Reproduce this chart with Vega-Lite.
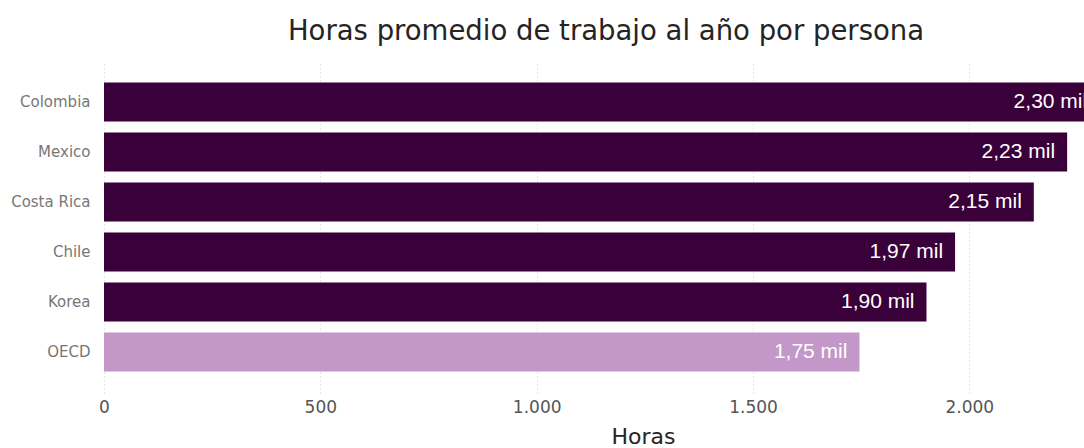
{
  "$schema": "https://vega.github.io/schema/vega-lite/v6.json",
  "width": 980,
  "height": 332,
  "autosize": {"type": "none"},
  "padding": {"left": 104, "top": 61, "right": 0, "bottom": 55},
  "background": "white",
  "config": {
    "view": {"stroke": null},
    "locale": {"number": {"decimal": ",", "thousands": ".", "grouping": [3], "currency": ["$", ""]}}
  },
  "title": {
    "text": "Horas promedio de trabajo al año por persona",
    "font": "DejaVu Sans",
    "fontSize": 27.5,
    "fontWeight": "normal",
    "color": "#252423",
    "frame": "group",
    "anchor": "middle",
    "dx": 12,
    "offset": 16
  },
  "data": {
    "values": [
      {"pais": "Colombia", "horas": 2300, "grupo": "pais"},
      {"pais": "Mexico", "horas": 2226, "grupo": "pais"},
      {"pais": "Costa Rica", "horas": 2149, "grupo": "pais"},
      {"pais": "Chile", "horas": 1967, "grupo": "pais"},
      {"pais": "Korea", "horas": 1901, "grupo": "pais"},
      {"pais": "OECD", "horas": 1746, "grupo": "oecd"}
    ]
  },
  "transform": [
    {"calculate": "replace(format(datum.horas/1000, '.2f'), '.', ',') + ' mil'", "as": "etiqueta"}
  ],
  "encoding": {
    "y": {
      "field": "pais",
      "type": "nominal",
      "sort": null,
      "scale": {"paddingInner": 0.22, "paddingOuter": 0.43},
      "axis": {
        "title": null,
        "domain": false,
        "ticks": false,
        "grid": false,
        "labelFont": "DejaVu Sans",
        "labelFontSize": 15,
        "labelColor": "#777777",
        "labelPadding": 14
      }
    },
    "x": {
      "field": "horas",
      "type": "quantitative",
      "scale": {"domain": [0, 2265], "nice": false},
      "axis": {
        "title": "Horas",
        "values": [0, 500, 1000, 1500, 2000],
        "format": ",d",
        "domain": false,
        "ticks": false,
        "grid": true,
        "gridColor": "#cccccc",
        "gridDash": [1, 3],
        "labelFlush": false,
        "labelFont": "DejaVu Sans",
        "labelFontSize": 17,
        "labelColor": "#555555",
        "labelPadding": 6,
        "titleFont": "DejaVu Sans",
        "titleFontSize": 22,
        "titleFontWeight": "normal",
        "titleColor": "#252423",
        "titleX": 539,
        "titleY": 50,
        "titleAlign": "center",
        "titleBaseline": "alphabetic"
      }
    }
  },
  "layer": [
    {
      "mark": {"type": "bar", "clip": true},
      "encoding": {
        "color": {
          "field": "grupo",
          "type": "nominal",
          "scale": {"domain": ["pais", "oecd"], "range": ["#3A003A", "#C497C9"]},
          "legend": null
        }
      }
    },
    {
      "mark": {
        "type": "text",
        "clip": true,
        "align": "right",
        "baseline": "middle",
        "dx": -12,
        "font": "Liberation Sans",
        "fontSize": 21,
        "color": "white"
      },
      "encoding": {
        "text": {"field": "etiqueta", "type": "nominal"}
      }
    }
  ]
}
